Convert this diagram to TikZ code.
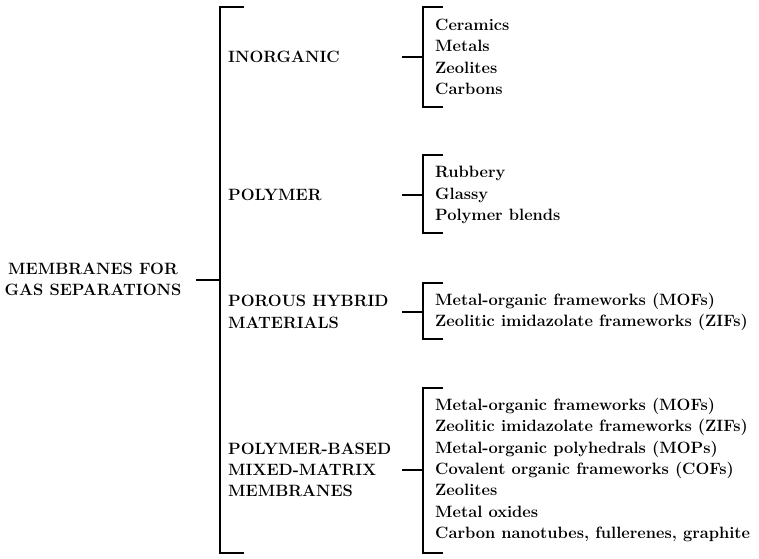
\documentclass[tikz,border=0pt]{standalone}
\usepackage{fontspec}
\usetikzlibrary{positioning}

\begin{document}
\begin{tikzpicture}
[x=1pt,y=-1pt,
  lineDecorate/.style={-,line width=2.4pt},%
  txt/.style={font=\bfseries\fontsize{16.4}{21.3}\selectfont,inner sep=0pt,anchor=west,align=left}]
\useasboundingbox (0,0) rectangle (759,558);
%% root
\node (root) at (93,279) [txt,anchor=center,align=center] {MEMBRANES FOR\\GAS SEPARATIONS};
\coordinate (rootS) at (196,280);
\coordinate (mainTop) at (244,7);
\coordinate (mainBot) at (244,553);
\draw[lineDecorate] (mainTop) -- ++(-24,0) |- (mainBot);
\draw[lineDecorate] (rootS) -- ++(24,0);
%% categories and their items
\foreach \g/\cat/\top/\mid/\bot/\items in {
  inorg/INORGANIC/7/57/107/{Ceramics\\Metals\\Zeolites\\Carbons},
  poly/POLYMER/155/195/233/{Rubbery\\Glassy\\Polymer blends},
  phm/{POROUS HYBRID\\MATERIALS}/283/312/339/{Metal-organic frameworks (MOFs)\\Zeolitic imidazolate frameworks (ZIFs)},
  mmm/{POLYMER-BASED\\MIXED-MATRIX\\MEMBRANES}/388/470/553/{Metal-organic frameworks (MOFs)\\Zeolitic imidazolate frameworks (ZIFs)\\Metal-organic polyhedrals (MOPs)\\Covalent organic frameworks (COFs)\\Zeolites\\Metal oxides\\Carbon nanotubes, fullerenes, graphite}}
{
  \node (\g) at (228,\mid) [txt] {\cat};
  \node (\g-items) at (435,\mid) [txt] {\items};
  \coordinate (\g-a) at (443,\top);
  \coordinate (\g-b) at (443,\bot);
  \coordinate (\g-s) at (402,\mid);
  \draw[lineDecorate] (\g-a) -- ++(-20,0) |- (\g-b);
  \draw[lineDecorate] (\g-s) -- ++(21,0);
}
\end{tikzpicture}
\end{document}
